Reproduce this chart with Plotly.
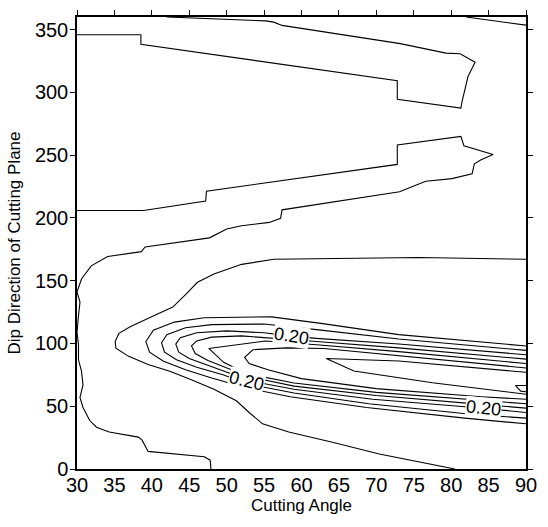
import plotly.graph_objects as go

# ---- contour lines (Cutting Angle, Dip Direction) ----
# outermost lobe line
L0_x = [90, 75.7, 56.3, 52.0, 48.3, 46.1, 44.6, 43.5, 42.8, 40.4, 37.1, 35.6, 35.1, 35.2, 36.9, 39.5,
        42.4, 45.2, 48.3, 51.3, 53.0, 54.8, 58.3, 64.0, 70.4, 80.5]
L0_y = [167, 168.4, 167, 163, 155.3, 148.7, 139.5, 133, 129, 122.5, 113.3, 108, 101.5, 96.2, 89.7, 83.2,
        77.9, 71.3, 63.5, 54.3, 45, 36, 29.4, 21.5, 12, 0]

# nested lines of the central tongue (outer -> inner)
L1_x = [90, 73, 62.6, 56, 47, 43, 40.2, 39.2, 39.7, 41.5, 44.5, 48, 52.7, 58.5, 68.7, 81.8, 90]
L1_y = [98, 107, 116, 121.2, 120.5, 117, 110.5, 101.5, 93, 86, 79, 72.5, 64.5, 57.5, 49, 40.5, 36]

L2_x = [90, 73, 62, 55, 48, 44.5, 42, 41.3, 41.7, 43.3, 46, 49.5, 53, 59, 69, 82, 90]
L2_y = [94.5, 103.5, 111, 115.5, 115, 112.5, 107, 100.5, 93, 87, 81, 75, 67.5, 60.5, 52, 44, 40.5]

L3_x = [90, 73, 62, 58.6, 55, 50, 46, 43.8, 43.2, 43.6, 45, 47.5, 50.5, 52.7, 59, 69.5, 84.3, 90]
L3_y = [91, 99.5, 104, 105.8, 108.5, 110, 108.5, 104.5, 99.5, 93, 88, 82.5, 76, 70.5, 63.5, 55.5, 48.4, 45]

L4_x = [90, 73, 62, 56, 52, 48, 46, 45.3, 45.8, 47.5, 50, 53, 59, 70, 84, 90]
L4_y = [87.5, 96.5, 101.5, 104, 106, 105, 102, 98, 92, 86.5, 80.5, 73.5, 66, 58.5, 51.5, 48.5]

L5_x = [90, 73, 62, 55.2, 47.6, 49.6, 52.6, 59, 70, 84, 90]
L5_y = [84, 93.5, 99, 102, 96, 85, 76, 68.5, 61, 54.5, 52]

L6_x = [90, 73, 63, 58, 53.5, 52.4, 53, 55.5, 60, 70, 84, 90]
L6_y = [80.5, 90.5, 96, 96.5, 95, 89, 84, 79, 72, 64, 57.5, 55.5]

L7_x = [90, 73, 63.3, 67, 77.5, 90]
L7_y = [77, 86, 88, 78, 68.7, 59.5]

L8_x = [90, 88.6, 89.3, 90]
L8_y = [66.5, 66.5, 62, 61.5]

# wavy left line + middle band
LW_x = [47.9, 47.8, 47.0, 39.5, 38.7, 38.2, 34.3, 32.6, 31.7, 30.8, 30.4, 30.8, 30.6, 30.2, 30.2, 30.0,
        30.2, 30.4, 30.0, 30.6, 31.9, 34.1, 38.6, 39.1, 47.7, 50.0, 52.0, 55.7, 57.2, 57.4, 73.1, 76.6,
        80.1, 82.8, 83.1, 84.0, 85.6, 81.7, 81.3, 72.8, 72.8, 47.3, 47.2, 38.9, 30.0]
LW_y = [0, 7, 9.7, 14, 23, 25.4, 29.4, 33.3, 38.6, 49, 57, 67, 78, 87, 99, 109,
        122, 133, 141, 151.3, 161.8, 169.2, 173.1, 176.8, 184.1, 191.2, 193.8, 196.4, 199.6, 206.4, 220.8, 229.2,
        231.3, 235.2, 243.1, 246.3, 250.5, 257.5, 264.9, 258.1, 242.6, 221.3, 213.5, 205.9, 205.9]

# upper band
LU_x = [30, 38.54, 38.54, 72.8, 72.8, 81.3, 81.46, 81.8, 82.25, 83.2, 82.0, 81.2, 79.3, 73.2, 57.4,
        56.3, 55.2, 45.2, 42]
LU_y = [345.9, 345.9, 338.3, 309.2, 294.5, 287.4, 292.9, 300.8, 312.6, 323.9, 328.3, 330.7, 331.2, 338.8, 353.3,
        355.9, 356.9, 359, 360]

# top-right corner line
LT_x = [82, 90]
LT_y = [360, 353.5]

# contour labels
label_text = ["0.20", "0.20", "0.20"]
label_x = [58.6, 52.7, 84.3]
label_y = [105.8, 70.0, 48.4]
label_angle = [9, 14, 6]

x_ticks = [30, 35, 40, 45, 50, 55, 60, 65, 70, 75, 80, 85, 90]
y_ticks = [0, 50, 100, 150, 200, 250, 300, 350]

FONT = "Arial, Liberation Sans, sans-serif"

fig = go.Figure()
lines = [(L0_x, L0_y), (L1_x, L1_y), (L2_x, L2_y), (L3_x, L3_y), (L4_x, L4_y), (L5_x, L5_y),
         (L6_x, L6_y), (L7_x, L7_y), (L8_x, L8_y), (LW_x, LW_y), (LU_x, LU_y)]
for xs, ys in lines:
    fig.add_trace(go.Scatter(x=xs, y=ys, mode="lines", line=dict(color="black", width=1.1),
                             hoverinfo="skip", showlegend=False))
# top-right line drawn on the (matching) top axis so that axis is rendered
fig.add_trace(go.Scatter(x=LT_x, y=LT_y, mode="lines", line=dict(color="black", width=1.1),
                         hoverinfo="skip", showlegend=False, xaxis="x2"))

for t, lx, ly, a in zip(label_text, label_x, label_y, label_angle):
    fig.add_annotation(x=lx, y=ly, xref="x", yref="y", text=t, showarrow=False, textangle=a,
                       font=dict(family=FONT, size=18, color="black"), bgcolor="white", borderpad=0)

fig.update_layout(
    width=548, height=527,
    margin=dict(l=77, r=12, t=11, b=58),
    paper_bgcolor="white", plot_bgcolor="white",
    font=dict(family=FONT, color="black"),
    xaxis=dict(range=[30, 90], tickvals=x_ticks, ticks="", showline=True, linecolor="black",
               linewidth=1.5, mirror=True, showgrid=False, zeroline=False, ticklabelstandoff=-3,
               tickfont=dict(size=20, color="black"),
               title=dict(text="Cutting Angle", font=dict(size=17, color="black"), standoff=4)),
    xaxis2=dict(range=[30, 90], matches="x", overlaying="x", side="top", tickvals=x_ticks,
                ticks="outside", ticklen=6, tickwidth=1, tickcolor="black", showticklabels=False,
                showgrid=False, zeroline=False, showline=False),
    yaxis=dict(range=[0, 360], tickvals=y_ticks, ticks="outside", ticklen=5, tickwidth=1,
               tickcolor="black", showline=True, linecolor="black", linewidth=1.5, mirror="ticks",
               showgrid=False, zeroline=False, ticklabelstandoff=-2,
               tickfont=dict(size=20, color="black"),
               title=dict(text="Dip Direction of Cutting Plane", font=dict(size=17, color="black"),
                          standoff=10)),
)

fig.write_html("out.html")
